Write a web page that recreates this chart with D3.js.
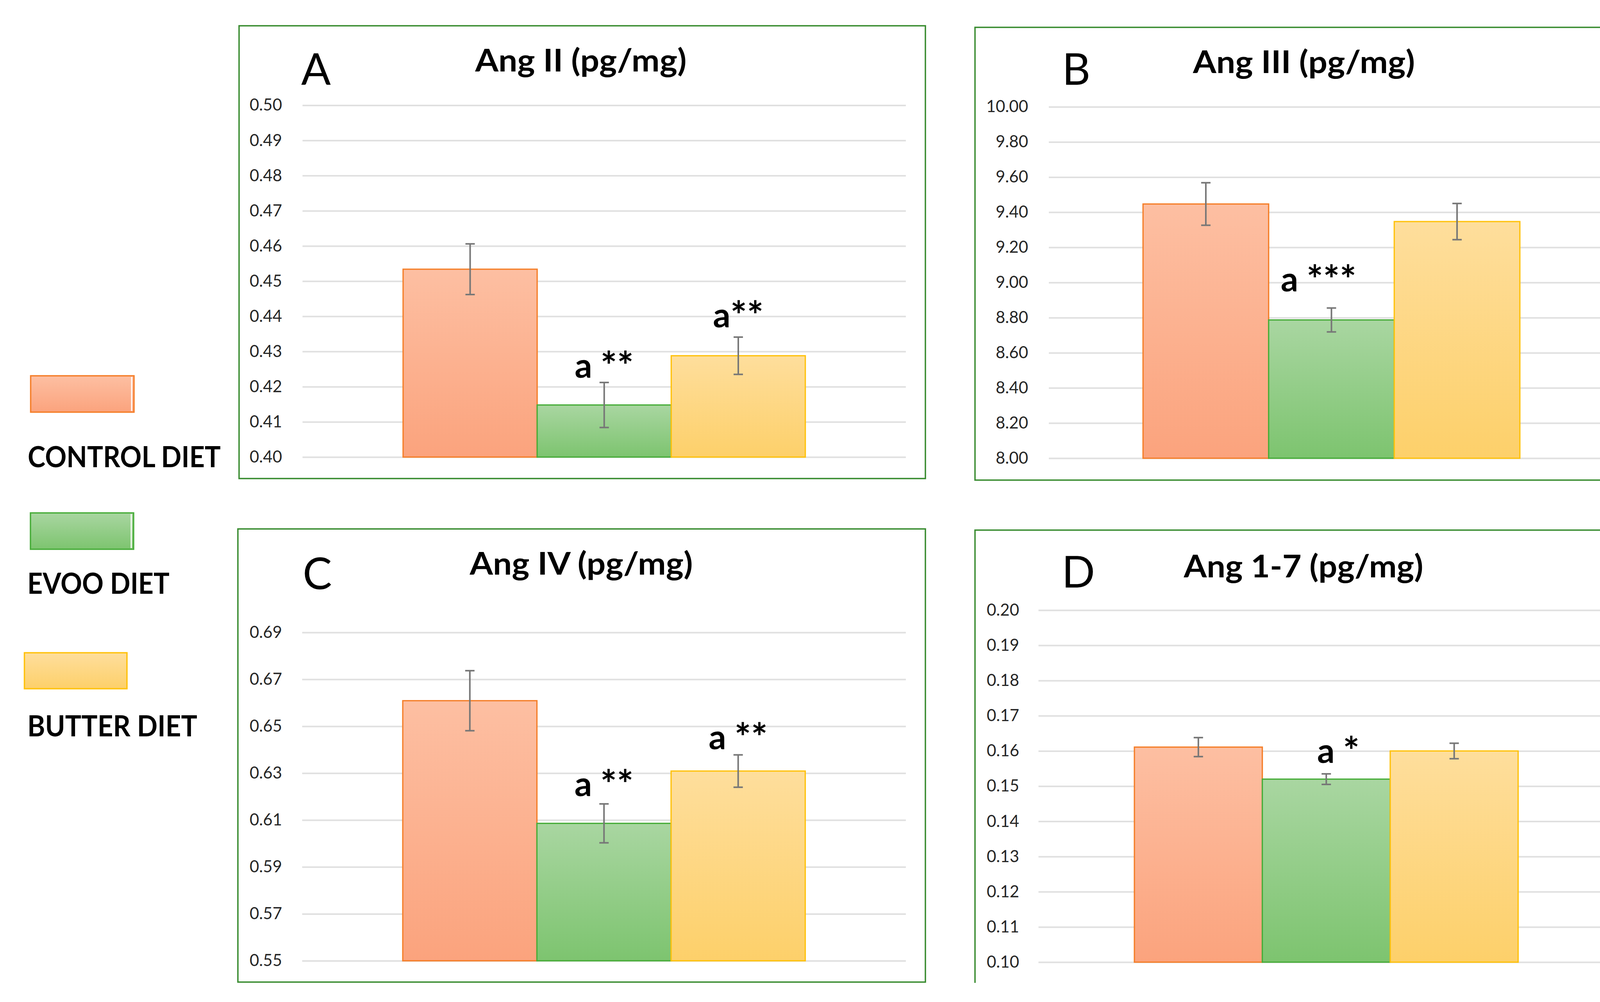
<!DOCTYPE html>
<html>
<head>
<meta charset="utf-8">
<script src="https://cdn.jsdelivr.net/npm/d3@7/dist/d3.min.js"></script>
<style>
  html, body { margin: 0; padding: 0; background: #fff; overflow: hidden; }
  svg { display: block; }
  svg text { font-family: Lato, "Open Sans", sans-serif; }
</style>
</head>
<body>
<div id="chart-area"></div>
<script>

let width = 4236,
    height = 2565;

// diet groups, same order in every panel
let groups = ["CONTROL DIET", "EVOO DIET", "BUTTER DIET"];

// A) Ang II
let angIIMeans = [0.4534, 0.4148, 0.4288];
let angIIErrors = [0.0072, 0.0064, 0.0053];
let angIINotes = ["", "a **", "a**"];
let angIITicks = [0.40, 0.41, 0.42, 0.43, 0.44, 0.45, 0.46, 0.47, 0.48, 0.49, 0.50];

// B) Ang III
let angIIIMeans = [9.447, 8.787, 9.347];
let angIIIErrors = [0.121, 0.068, 0.103];
let angIIINotes = ["", "a ***", ""];
let angIIITicks = [8.00, 8.20, 8.40, 8.60, 8.80, 9.00, 9.20, 9.40, 9.60, 9.80, 10.00];

// C) Ang IV
let angIVMeans = [0.6609, 0.6086, 0.6309];
let angIVErrors = [0.0128, 0.0083, 0.0069];
let angIVNotes = ["", "a **", "a **"];
let angIVTicks = [0.55, 0.57, 0.59, 0.61, 0.63, 0.65, 0.67, 0.69];

// D) Ang 1-7
let ang17Means = [0.1611, 0.1520, 0.1600];
let ang17Errors = [0.0027, 0.0015, 0.0022];
let ang17Notes = ["", "a *", ""];
let ang17Ticks = [0.10, 0.11, 0.12, 0.13, 0.14, 0.15, 0.16, 0.17, 0.18, 0.19, 0.20];

let titles = ["Ang II (pg/mg)", "Ang III (pg/mg)", "Ang IV (pg/mg)", "Ang 1-7 (pg/mg)"];
let letters = ["A", "B", "C", "D"];

// colours per diet
let fillTop = ["#FDBFA2", "#A9D6A1", "#FEDE9C"];
let fillBottom = ["#FBA37D", "#7DC46F", "#FDD06A"];
let strokes = ["#F57F2A", "#48AD3A", "#FFC20E"];

// where each panel sits on the page
let layout = [
  { box: [612, 66, 2369, 1225], plotX: [774.5, 2319], plotY: [1170, 269.5], labelRight: 722,
    title: [1487, 183, 541], letter: [771, 217], noteDx: [0, 0, 0], noteGap: [0, 12, 25] },
  { box: [2496, 70, 4179, 1229], plotX: [2685, 4132], plotY: [1173, 273.5], labelRight: 2632,
    title: [3338, 187, 568], letter: [2719, 217], noteDx: [0, -33, 0], noteGap: [0, 42, 0] },
  { box: [609, 1354, 2369, 2514], plotX: [773.5, 2319], plotY: [2459.5, 1619], labelRight: 722,
    title: [1488, 1471, 571], letter: [775, 1508], noteDx: [0, 0, 0], noteGap: [0, 20, 14] },
  { box: [2496, 1357, 4179, 2516], plotX: [2658.5, 4132], plotY: [2463, 1562], labelRight: 2609,
    title: [3337, 1478, 613], letter: [2718, 1504], noteDx: [0, 31, 0], noteGap: [0, 28, 0], openBottom: true }
];

let panels = [
  { means: angIIMeans, errors: angIIErrors, notes: angIINotes, ticks: angIITicks },
  { means: angIIIMeans, errors: angIIIErrors, notes: angIIINotes, ticks: angIIITicks },
  { means: angIVMeans, errors: angIVErrors, notes: angIVNotes, ticks: angIVTicks },
  { means: ang17Means, errors: ang17Errors, notes: ang17Notes, ticks: ang17Ticks }
];

let svg = d3.select("#chart-area").append("svg")
    .attr("width", width)
    .attr("height", height);

svg.append("rect")
    .attr("width", width)
    .attr("height", height)
    .attr("fill", "#fff");

// vertical gradients, one per diet
let defs = svg.append("defs");
groups.forEach(function(g, i) {
  let grad = defs.append("linearGradient")
      .attr("id", "grad" + i)
      .attr("x1", 0).attr("y1", 0)
      .attr("x2", 0).attr("y2", 1);
  grad.append("stop").attr("offset", "0%").attr("stop-color", fillTop[i]);
  grad.append("stop").attr("offset", "100%").attr("stop-color", fillBottom[i]);
});

let fmt = d3.format(".2f");

panels.forEach(function(p, k) {
  let L = layout[k];
  let g = svg.append("g");
  let b = L.box;

  // panel frame (D runs off the bottom of the page)
  let frame = L.openBottom
    ? `M${b[0]},${b[3]}V${b[1]}H${b[2]}V${b[3]}`
    : `M${b[0]},${b[1]}H${b[2]}V${b[3]}H${b[0]}Z`;
  g.append("path")
      .attr("d", frame)
      .attr("fill", "none")
      .attr("stroke", "#378B2E")
      .attr("stroke-width", 3.5);

  let y = d3.scaleLinear()
      .domain([p.ticks[0], p.ticks[p.ticks.length - 1]])
      .range(L.plotY);

  let x = d3.scaleBand()
      .domain(groups)
      .range(L.plotX)
      .paddingInner(0)
      .paddingOuter(0.75);

  // gridlines + tick labels
  let axis = d3.axisLeft(y)
      .tickValues(p.ticks)
      .tickFormat(fmt)
      .tickSize(-(L.plotX[1] - L.plotX[0]))
      .tickPadding(L.plotX[0] - L.labelRight);

  let gAxis = g.append("g")
      .attr("transform", `translate(${L.plotX[0]},0)`)
      .call(axis)
      .attr("font-family", "Lato, sans-serif")
      .attr("font-size", 42);
  gAxis.select(".domain").remove();
  gAxis.selectAll(".tick line")
      .attr("stroke", "#E0E0E0")
      .attr("stroke-width", 4);
  gAxis.selectAll(".tick text")
      .attr("fill", "#262626");

  let rows = groups.map(function(name, i) {
    return { name: name, i: i, mean: p.means[i], err: p.errors[i], note: p.notes[i] };
  });

  // bars
  g.selectAll(".bar")
      .data(rows)
      .enter().append("rect")
      .attr("class", "bar")
      .attr("x", d => x(d.name))
      .attr("y", d => y(d.mean))
      .attr("width", x.bandwidth())
      .attr("height", d => y(p.ticks[0]) - y(d.mean))
      .attr("fill", d => "url(#grad" + d.i + ")")
      .attr("stroke", d => strokes[d.i])
      .attr("stroke-width", 3.3);

  // error bars
  let cx = d => x(d.name) + x.bandwidth() / 2;
  let err = g.selectAll(".err")
      .data(rows)
      .enter().append("g")
      .attr("class", "err")
      .attr("stroke", "#777")
      .attr("stroke-width", 4);
  err.append("line")
      .attr("x1", cx).attr("x2", cx)
      .attr("y1", d => y(d.mean - d.err))
      .attr("y2", d => y(d.mean + d.err));
  err.append("line")
      .attr("x1", d => cx(d) - 12).attr("x2", d => cx(d) + 12)
      .attr("y1", d => y(d.mean + d.err))
      .attr("y2", d => y(d.mean + d.err));
  err.append("line")
      .attr("x1", d => cx(d) - 12).attr("x2", d => cx(d) + 12)
      .attr("y1", d => y(d.mean - d.err))
      .attr("y2", d => y(d.mean - d.err));

  // significance marks: letter, then bigger asterisks
  let notes = g.selectAll(".note")
      .data(rows.filter(d => d.note))
      .enter().append("text")
      .attr("class", "note")
      .attr("x", d => cx(d) + L.noteDx[d.i])
      .attr("y", d => y(d.mean + d.err) - L.noteGap[d.i])
      .attr("text-anchor", "middle")
      .attr("font-size", 88)
      .attr("font-weight", 700)
      .attr("fill", "#000")
      .style("white-space", "pre");
  notes.append("tspan")
      .text(d => d.note.slice(0, d.note.indexOf("*")));
  notes.append("tspan")
      .attr("font-size", 100)
      .attr("dy", 6)
      .text(d => d.note.slice(d.note.indexOf("*")));

  // title and panel letter
  g.append("text")
      .attr("x", L.title[0])
      .attr("y", L.title[1])
      .attr("text-anchor", "middle")
      .attr("font-size", 80)
      .attr("font-weight", 700)
      .attr("textLength", L.title[2])
      .attr("lengthAdjust", "spacingAndGlyphs")
      .text(titles[k]);

  g.append("text")
      .attr("x", L.letter[0])
      .attr("y", L.letter[1])
      .attr("font-size", 112)
      .attr("fill", "#000")
      .text(letters[k]);
});

// legend on the left
let legendBoxes = [[78.5, 962, 264.5, 93], [78, 1313, 264, 93], [62.5, 1671, 262.5, 92]];
let legendText = [[71, 1196, 494], [70, 1520, 364], [70, 1885, 435]];

let legend = svg.selectAll(".legend")
    .data(groups)
    .enter().append("g")
    .attr("class", "legend");

legend.append("rect")
    .attr("x", (d, i) => legendBoxes[i][0])
    .attr("y", (d, i) => legendBoxes[i][1])
    .attr("width", (d, i) => legendBoxes[i][2])
    .attr("height", (d, i) => legendBoxes[i][3])
    .attr("fill", (d, i) => "url(#grad" + i + ")")
    .attr("stroke", (d, i) => strokes[i])
    .attr("stroke-width", 3.5);

// thin white seam near the right edge of the first two swatches
legend.filter((d, i) => i < 2).append("line")
    .attr("x1", (d, i) => legendBoxes[i][0] + legendBoxes[i][2] - 6)
    .attr("x2", (d, i) => legendBoxes[i][0] + legendBoxes[i][2] - 6)
    .attr("y1", (d, i) => legendBoxes[i][1] + 3)
    .attr("y2", (d, i) => legendBoxes[i][1] + legendBoxes[i][3] - 3)
    .attr("stroke", "#fff")
    .attr("stroke-width", 3);

legend.append("text")
    .attr("x", (d, i) => legendText[i][0])
    .attr("y", (d, i) => legendText[i][1])
    .attr("font-size", 74)
    .attr("font-weight", 700)
    .attr("fill", "#000")
    .attr("textLength", (d, i) => legendText[i][2])
    .attr("lengthAdjust", "spacingAndGlyphs")
    .text(d => d);

</script>
</body>
</html>
